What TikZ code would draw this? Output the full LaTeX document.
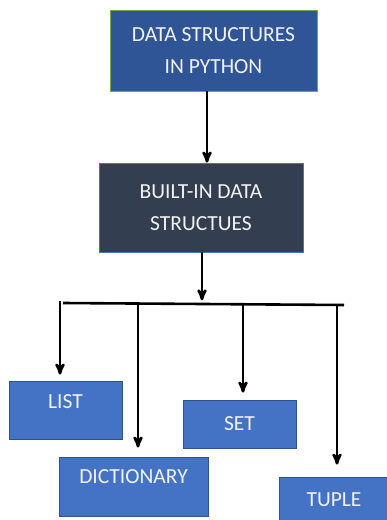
\documentclass[tikz,border=0pt]{standalone}
\usepackage{fontspec}
\setmainfont{Carlito}
\usetikzlibrary{arrows}

\definecolor{topblue}{HTML}{2F5597}
\definecolor{topedge}{HTML}{70AD47}
\definecolor{slate}{HTML}{333F50}
\definecolor{midblue}{HTML}{4472C4}
\definecolor{edgeblue}{HTML}{2F528F}

\begin{document}
\begin{tikzpicture}[x=1pt,y=-1pt,->,>=stealth',line width=2.6pt]
  \tikzstyle{every node}=[inner sep=0pt,text=white!95!black,align=center,
    font=\fontsize{21.5}{32}\selectfont]
  \tikzstyle{box}=[draw=edgeblue,fill=midblue,line width=0.8pt]
  \useasboundingbox (0,0) rectangle (386,520);

  \node[box,draw=topedge,fill=topblue,minimum width=207pt,minimum height=81pt] (top) at (213.5,50.5) {DATA STRUCTURES\\IN PYTHON};
  \node[box,draw=midblue,fill=slate,minimum width=204pt,minimum height=89pt] (builtin) at (201,207.5) {BUILT-IN DATA\\STRUCTUES};

  \node[box,minimum width=113pt,minimum height=58pt,text depth=16pt] (list) at (65.5,410) {LIST};
  \node[box,minimum width=149pt,minimum height=59pt,text depth=20pt] (dict) at (133.5,486.5) {DICTIONARY};
  \node[box,minimum width=113pt,minimum height=48pt] (set) at (239.5,424) {SET};
  \node[box,minimum width=110pt,minimum height=46pt] (tuple) at (334,500) {TUPLE};

  % the bar under the second box
  \coordinate (barL) at (63,303);
  \coordinate (barR) at (344,305);
  \coordinate (b1) at (60,301);
  \coordinate (b2) at (138,304);
  \coordinate (b3) at (243,304.5);
  \coordinate (b4) at (337,305);

  \draw ([xshift=-6.5pt]top.south) -- ([xshift=6pt]builtin.north);
  \draw ([xshift=1pt]builtin.south) -- ([xshift=1pt,yshift=-48pt]builtin.south);
  \draw[-] (barL) -- (barR);

  \draw[shorten >=6pt] (b1) -- (b1 |- list.north);
  \draw[shorten >=9pt] (b2) -- (b2 |- dict.north);
  \draw[shorten >=7pt] (b3) -- (b3 |- set.north);
  \draw[shorten >=12pt] (b4) -- (b4 |- tuple.north);
\end{tikzpicture}
\end{document}
